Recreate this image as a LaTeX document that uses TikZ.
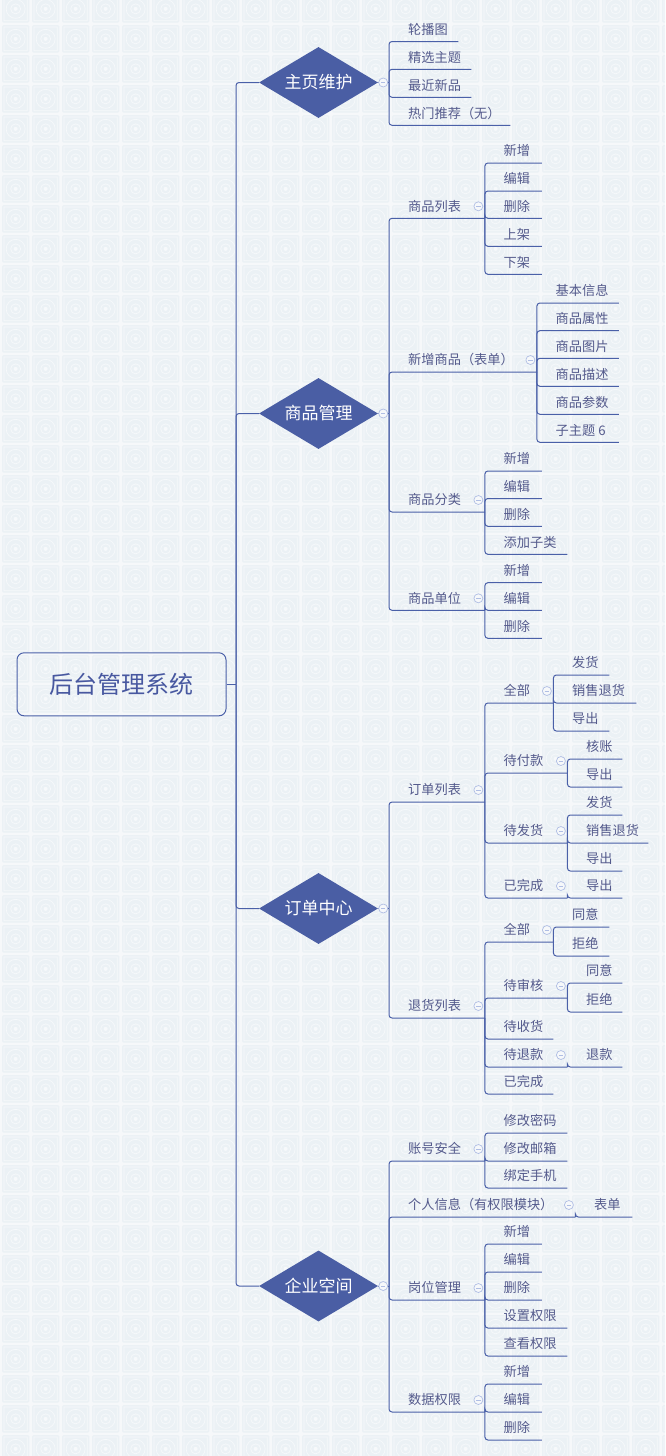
\documentclass[tikz,border=0pt]{standalone}
\usepackage{fontspec}
\newfontfamily\cjk{Noto Sans CJK SC}
\usetikzlibrary{shapes.geometric}

\definecolor{linecol}{RGB}{74,96,168}
\definecolor{hubfill}{RGB}{74,94,164}
\definecolor{txtcol}{RGB}{84,90,140}
\definecolor{rootcol}{RGB}{72,88,160}
\definecolor{foldcol}{RGB}{176,190,228}
\definecolor{bgbase}{RGB}{246,248,250}
\definecolor{tilefill}{RGB}{235,241,245}
\definecolor{tileline}{RGB}{247,249,251}

% strut matching the ideographic em box
\newcommand\cstrut{\vrule height 11.6pt depth 1.6pt width 0pt}
% topic: name, x of branch line, y of underline, underline length, label
\newcommand\topic[5]{\node[topic] (#1) at (#2,#3) {\makebox[#4pt][l]{\hspace*{19pt}\cstrut #5}};}
% collapse marker above the end of a topic's underline
\newcommand\fold[1]{\node[fold] (#1-f) at ([xshift=-6.5pt,yshift=12pt]#1.south east) {};}

\tikzset{
  branch/.style={draw=linecol, line width=1pt, rounded corners=3pt},
  topic/.style={anchor=south west, inner sep=0pt, minimum height=24pt,
    text=txtcol, font=\cjk\fontsize{13.2}{14}\selectfont},
  hub/.style={diamond, shape aspect=1.68, fill=hubfill, inner sep=0pt,
    minimum width=119pt, minimum height=71pt, text=white,
    font=\cjk\fontsize{17}{18}\selectfont},
  rootbox/.style={draw=linecol, line width=1pt, rounded corners=7pt,
    minimum width=209pt, minimum height=63pt, inner sep=0pt,
    text=rootcol, font=\cjk\fontsize{24}{26}\selectfont},
  fold/.style={circle, draw=foldcol, fill=bgbase, line width=0.7pt,
    minimum size=9pt, inner sep=0pt,
    path picture={\draw[foldcol, line width=0.7pt]
      ([xshift=-2.2pt]path picture bounding box.center) --
      ([xshift=2.2pt]path picture bounding box.center);}},
}

\begin{document}
\begin{tikzpicture}[x=1pt,y=-1pt]
\useasboundingbox (0,0) rectangle (665,1456);
\clip (0,0) rectangle (665,1456);

% tiled backdrop
\fill[bgbase] (0,0) rectangle (665,1456);
\foreach \i in {0,...,22}{
  \foreach \j in {0,...,49}{
    \pgfmathsetmacro\tx{2+30*\i}
    \pgfmathsetmacro\ty{-5+30*\j}
    \fill[tilefill, rounded corners=1.5pt] (\tx,\ty) rectangle ++(27.3,27.7);
    \draw[tileline, line width=0.7pt] (\tx+2,\ty+2) rectangle ++(23.3,23.7)
      (\tx+13.65,\ty+13.85) circle[radius=9.5pt]
      (\tx+13.65,\ty+13.85) circle[radius=5pt];
    \fill[tileline] (\tx+13.65,\ty+13.85) circle[radius=2pt];
  }
}

% root and main topics
\node[rootbox] (root) at (121.5,684.3) {后台管理系统};
\node[hub] (d1) at (318.5,82.5) {主页维护};
\node[hub] (d2) at (318.5,413.5) {商品管理};
\node[hub] (d3) at (318.5,908.5) {订单中心};
\node[hub] (d4) at (318.5,1286) {企业空间};

\coordinate (trunk) at (236,684.3);
\coordinate (d1-j) at (389,82.5);
\coordinate (d2-j) at (389,413.5);
\coordinate (d3-j) at (389,908.5);
\coordinate (d4-j) at (389,1286);

% 主页维护
\topic{a1}{389}{41.5}{69}{轮播图}
\topic{a2}{389}{69.3}{82}{精选主题}
\topic{a3}{389}{97.3}{82}{最近新品}
\topic{a4}{389}{125.3}{121}{热门推荐（无）}

% 商品管理
\topic{b1}{389}{218.3}{95.5}{商品列表}
\topic{b2}{389}{372}{147.5}{新增商品（表单）}
\topic{b3}{389}{512}{95.5}{商品分类}
\topic{b4}{389}{610.3}{95.5}{商品单位}

\topic{b11}{484.5}{163}{57}{新增}
\topic{b12}{484.5}{191}{57}{编辑}
\topic{b13}{484.5}{218.3}{57}{删除}
\topic{b14}{484.5}{246.3}{57}{上架}
\topic{b15}{484.5}{274.3}{57}{下架}

\topic{b21}{536.5}{303}{82}{基本信息}
\topic{b22}{536.5}{330.7}{82}{商品属性}
\topic{b23}{536.5}{358.3}{82}{商品图片}
\topic{b24}{536.5}{386.3}{82}{商品描述}
\topic{b25}{536.5}{414.3}{82}{商品参数}
\topic{b26}{536.5}{442.3}{82}{子主题 6}

\topic{b31}{484.5}{471}{57}{新增}
\topic{b32}{484.5}{498.5}{57}{编辑}
\topic{b33}{484.5}{526.3}{57}{删除}
\topic{b34}{484.5}{554.3}{82.5}{添加子类}

\topic{b41}{484.5}{582.7}{57}{新增}
\topic{b42}{484.5}{610.3}{57}{编辑}
\topic{b43}{484.5}{638.3}{57}{删除}

% 订单中心
\topic{c1}{389}{802}{95.5}{订单列表}
\topic{c2}{389}{1018}{95.5}{退货列表}

\topic{c11}{484.5}{703}{68.5}{全部}
\topic{c12}{484.5}{773}{82.5}{待付款}
\topic{c13}{484.5}{843}{82.5}{待发货}
\topic{c14}{484.5}{898}{82.5}{已完成}

\topic{c111}{553}{675}{56}{发货}
\topic{c112}{553}{703}{83}{销售退货}
\topic{c113}{553}{731}{56}{导出}
\topic{c121}{567}{759}{55}{核账}
\topic{c122}{567}{787}{55}{导出}
\topic{c131}{567}{815}{55}{发货}
\topic{c132}{567}{843}{81}{销售退货}
\topic{c133}{567}{871}{55}{导出}
\topic{c141}{567}{898}{55}{导出}

\topic{c21}{484.5}{942}{68.5}{全部}
\topic{c22}{484.5}{998}{82.5}{待审核}
\topic{c23}{484.5}{1039}{68.5}{待收货}
\topic{c24}{484.5}{1067}{82.5}{待退款}
\topic{c25}{484.5}{1094}{68.5}{已完成}

\topic{c211}{553}{927}{56}{同意}
\topic{c212}{553}{956}{56}{拒绝}
\topic{c221}{567}{983}{55}{同意}
\topic{c222}{567}{1012}{55}{拒绝}
\topic{c241}{567}{1067}{55}{退款}

% 企业空间
\topic{e1}{389}{1161}{95.5}{账号安全}
\topic{e2}{389}{1217}{186}{个人信息（有权限模块）}
\topic{e3}{389}{1300}{95.5}{岗位管理}
\topic{e4}{389}{1412}{95.5}{数据权限}

\topic{e11}{484.5}{1133}{82.5}{修改密码}
\topic{e12}{484.5}{1161}{82.5}{修改邮箱}
\topic{e13}{484.5}{1188}{82.5}{绑定手机}
\topic{e21}{575}{1217}{57}{表单}
\topic{e31}{484.5}{1244}{57}{新增}
\topic{e32}{484.5}{1272}{57}{编辑}
\topic{e33}{484.5}{1300}{57}{删除}
\topic{e34}{484.5}{1328}{82.5}{设置权限}
\topic{e35}{484.5}{1356}{82.5}{查看权限}
\topic{e41}{484.5}{1384}{57}{新增}
\topic{e42}{484.5}{1412}{57}{编辑}
\topic{e43}{484.5}{1440}{57}{删除}

% connectors
\draw[branch] (root.east) -- (trunk);
\foreach \d in {d1,d2,d3,d4}{
  \draw[branch] (trunk) |- (\d.west);
  \draw[branch] (\d.east) -- (\d-j);
}
\foreach \c in {a1,a2,a3,a4}{\draw[branch] (d1-j) |- (\c.south east);}
\foreach \c in {b1,b2,b3,b4}{\draw[branch] (d2-j) |- (\c.south east);}
\foreach \c in {c1,c2}{\draw[branch] (d3-j) |- (\c.south east);}
\foreach \c in {e1,e2,e3,e4}{\draw[branch] (d4-j) |- (\c.south east);}

\foreach \p/\kids in {b1/{b11,b12,b13,b14,b15}, b2/{b21,b22,b23,b24,b25,b26},
    b3/{b31,b32,b33,b34}, b4/{b41,b42,b43},
    c1/{c11,c12,c13,c14}, c2/{c21,c22,c23,c24,c25},
    c11/{c111,c112,c113}, c12/{c121,c122}, c13/{c131,c132,c133}, c14/{c141},
    c21/{c211,c212}, c22/{c221,c222}, c24/{c241},
    e1/{e11,e12,e13}, e2/{e21}, e3/{e31,e32,e33,e34,e35}, e4/{e41,e42,e43}}{
  \foreach \c in \kids {\draw[branch] (\p.south east) |- (\c.south east);}
}

% collapse markers
\foreach \d in {d1,d2,d3,d4}{\node[fold] (\d-f) at ([xshift=5pt]\d.east) {};}
\foreach \p in {b1,b2,b3,b4,c1,c2,c11,c12,c13,c14,c21,c22,c24,e1,e2,e3,e4}{\fold{\p}}
\end{tikzpicture}
\end{document}
